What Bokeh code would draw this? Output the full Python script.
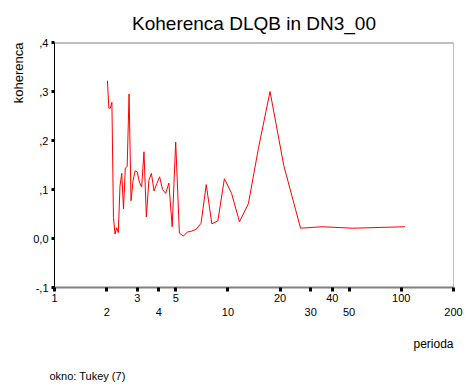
from bokeh.plotting import figure
from bokeh.models import (Range1d, FixedTicker, LogAxis, Span, Title)
from bokeh.embed import file_html
from bokeh.resources import INLINE

# ---- data ----
periods = [2.019, 2.059, 2.1, 2.143, 2.188, 2.234, 2.283, 2.333, 2.386, 2.442,
           2.5, 2.561, 2.625, 2.692, 2.763, 2.838, 2.917, 3.0, 3.088, 3.182,
           3.281, 3.387, 3.5, 3.621, 3.75, 3.889, 4.038, 4.2, 4.375, 4.565,
           4.773, 5.0, 5.25, 5.526, 5.833, 6.176, 6.563, 7.0, 7.5, 8.077,
           8.75, 9.545, 10.5, 11.667, 13.125, 15.0, 17.5, 21.0, 26.25, 35.0,
           52.5, 105.0]
coherence = [0.322, 0.266, 0.266, 0.278, 0.043, 0.009, 0.022, 0.012, 0.107, 0.133,
             0.060, 0.144, 0.147, 0.295, 0.077, 0.118, 0.138, 0.136, 0.115, 0.105,
             0.177, 0.044, 0.118, 0.133, 0.097, 0.112, 0.126, 0.100, 0.092, 0.113,
             0.024, 0.197, 0.011, 0.005, 0.013, 0.015, 0.019, 0.031, 0.110, 0.030,
             0.036, 0.122, 0.092, 0.034, 0.071, 0.184, 0.300, 0.149, 0.021, 0.024,
             0.021, 0.024]

x_ticks_upper = [1, 3, 5, 20, 40, 100]
x_ticks_lower = [2, 4, 10, 30, 50, 200]
y_ticks = [-0.1, 0.0, 0.1, 0.2, 0.3, 0.4]
y_tick_labels = ["-,1", "0,0", ",1", ",2", ",3", ",4"]

title_text = "Koherenca DLQB in DN3_00"
y_label = "koherenca"
x_label = "perioda"
note = "okno: Tukey (7)"

FONT = "Liberation Sans"

p = figure(width=465, height=387, x_axis_type="log",
           x_range=Range1d(1, 200), y_range=Range1d(-0.1, 0.4),
           output_backend="svg", toolbar_location=None,
           min_border_left=54, min_border_right=12,
           min_border_top=42, min_border_bottom=100)

p.title = Title(text=title_text, align="center", text_font=FONT,
                text_font_size="19px", text_font_style="normal",
                text_color="black", standoff=17)

p.background_fill_color = "white"
p.border_fill_color = "white"
p.outline_line_color = None
p.xgrid.visible = False
p.ygrid.visible = False

# y axis
ya = p.yaxis[0]
ya.ticker = FixedTicker(ticks=y_ticks)
ya.major_label_overrides = {t: l for t, l in zip(y_ticks, y_tick_labels)}
ya.axis_line_color = "black"
ya.axis_line_width = 1
ya.major_tick_line_color = "black"
ya.major_tick_line_width = 3
ya.major_tick_out = 3
ya.major_tick_in = 0
ya.minor_tick_line_color = None
ya.major_label_standoff = 3
ya.major_label_text_font = FONT
ya.major_label_text_font_size = "11px"
ya.major_label_text_color = "black"

# x axis (upper row of labels)
all_x_ticks = sorted(x_ticks_upper + x_ticks_lower)
xa = p.xaxis[0]
xa.ticker = FixedTicker(ticks=all_x_ticks)
ov = {t: str(t) for t in x_ticks_upper}
ov.update({t: "" for t in x_ticks_lower})
xa.major_label_overrides = ov
xa.axis_line_color = "#808080"
xa.axis_line_width = 2
xa.major_tick_line_color = "black"
xa.major_tick_line_width = 3
xa.major_tick_out = 4
xa.major_tick_in = 0
xa.minor_tick_line_color = None
xa.major_label_standoff = 2
xa.major_label_text_font = FONT
xa.major_label_text_font_size = "11px"
xa.major_label_text_color = "black"

# x axis (lower row of labels)
xa2 = LogAxis(ticker=FixedTicker(ticks=x_ticks_lower),
              major_label_overrides={t: str(t) for t in x_ticks_lower})
xa2.axis_line_color = None
xa2.major_tick_line_color = None
xa2.minor_tick_line_color = None
xa2.major_tick_out = 0
xa2.major_tick_in = 0
xa2.major_label_standoff = 3
xa2.major_label_text_font = FONT
xa2.major_label_text_font_size = "11px"
xa2.major_label_text_color = "black"
p.add_layout(xa2, "below")

# side texts
p.add_layout(Title(text=y_label, align="right", text_font=FONT,
                   text_font_size="13px", text_font_style="normal",
                   text_color="black", standoff=10), "left")
p.add_layout(Title(text=x_label, align="right", text_font=FONT,
                   text_font_size="12px", text_font_style="normal",
                   text_color="black", standoff=32), "below")
p.add_layout(Title(text=note, align="left", text_font=FONT,
                   text_font_size="11px", text_font_style="normal",
                   text_color="black", standoff=3, offset=-5), "below")

# frame top and right
p.add_layout(Span(location=0.4, dimension="width", line_color="#808080", line_width=2))
p.add_layout(Span(location=200, dimension="height", line_color="#808080", line_width=1))

p.line(periods, coherence, line_color="#FF0000", line_width=1)

open("out.html", "w").write(file_html(p, INLINE))
